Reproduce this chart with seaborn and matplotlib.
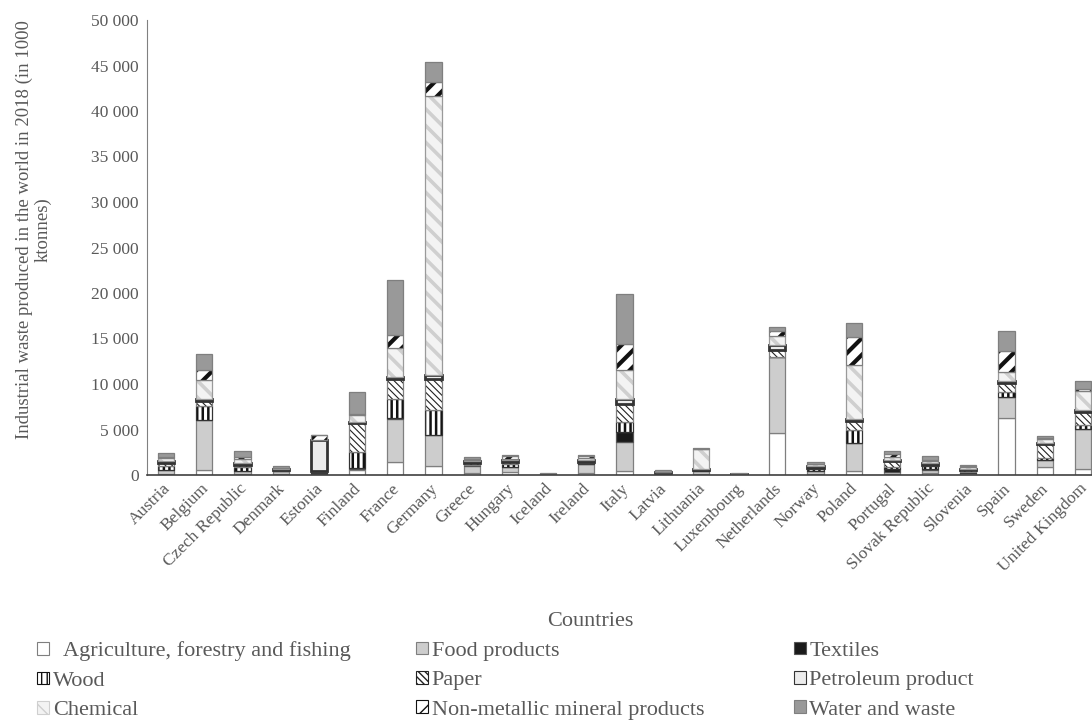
import numpy as np
import pandas as pd
import matplotlib
matplotlib.use("Agg")
import matplotlib.pyplot as plt
import matplotlib.transforms as mtransforms
from matplotlib.patches import Patch
from matplotlib.ticker import MultipleLocator, FuncFormatter
import seaborn as sns

# Industrial waste by sector and country (in 1000 ktonnes)
countries = ["Austria", "Belgium", "Czech Republic", "Denmark", "Estonia", "Finland",
             "France", "Germany", "Greece", "Hungary", "Iceland", "Ireland", "Italy",
             "Latvia", "Lithuania", "Luxembourg", "Netherlands", "Norway", "Poland",
             "Portugal", "Slovak Republic", "Slovenia", "Spain", "Sweden", "United Kingdom"]

agriculture = [100, 500, 100, 100, 50, 500, 1400, 1000, 200, 300, 0, 200, 470,
               20, 100, 0, 4650, 100, 470, 100, 200, 50, 6240, 920, 690]
food = [400, 5500, 300, 300, 100, 200, 4800, 3400, 800, 550, 60, 1000, 3120,
        100, 300, 50, 8350, 300, 3020, 250, 400, 200, 2380, 730, 4370]
textiles = [30, 50, 50, 20, 20, 50, 50, 50, 50, 50, 0, 10, 1170,
            10, 20, 0, 10, 10, 0, 300, 50, 20, 0, 0, 0]
wood = [500, 1500, 400, 50, 200, 1800, 2150, 2700, 100, 300, 0, 100, 1100,
        100, 100, 0, 0, 200, 1460, 200, 300, 100, 550, 190, 440]
paper = [300, 600, 300, 100, 50, 3200, 2100, 3400, 150, 200, 0, 100, 1980,
         20, 50, 0, 730, 200, 990, 700, 200, 150, 950, 1570, 1470]
petroleum = [200, 200, 200, 100, 3400, 100, 250, 400, 250, 200, 20, 200, 550,
             50, 80, 20, 550, 150, 220, 150, 200, 100, 220, 150, 150]
chemical = [300, 2100, 400, 100, 50, 700, 3200, 30700, 150, 200, 20, 250, 3190,
            30, 2200, 20, 990, 200, 5940, 300, 200, 300, 1030, 400, 2120]
non_metallic = [200, 1100, 200, 50, 500, 150, 1400, 1500, 100, 300, 20, 200, 2860,
                50, 60, 30, 580, 100, 3050, 300, 150, 100, 2310, 100, 170]
water_waste = [400, 1800, 700, 200, 50, 2400, 6100, 2200, 200, 150, 50, 150, 5500,
               150, 30, 50, 440, 200, 1530, 350, 350, 100, 2090, 230, 930]

sectors = ["  Agriculture, forestry and fishing", "Food products", "Textiles", "Wood",
           "Paper", "Petroleum product", "Chemical", "Non-metallic mineral products",
           "Water and waste"]
values = [agriculture, food, textiles, wood, paper, petroleum, chemical,
          non_metallic, water_waste]

# (facecolor, hatch, hatch colour, hatch linewidth, outline colour, outline width)
styles = [
    ("white", "", "#7f7f7f", 1.0, "#7f7f7f", 0.9),
    ("#cdcdcd", "", "#7f7f7f", 1.0, "#7f7f7f", 0.9),
    ("#1a1a1a", "", "#1a1a1a", 1.0, "#555555", 0.9),
    ("white", "|||", "#111111", 1.8, "#333333", 0.9),
    ("white", "\\\\\\\\\\", "#222222", 0.8, "#7f7f7f", 0.9),
    ("#ececec", "", "#404040", 1.0, "#333333", 2.0),
    ("#f3f3f3", "\\\\", "#cfcfcf", 2.6, "#9a9a9a", 0.9),
    ("white", "//", "#111111", 3.0, "#7f7f7f", 0.9),
    ("#999999", "", "#7f7f7f", 1.0, "#7f7f7f", 0.9),
]

sns.set_style("white")
plt.rcParams["font.family"] = ["Liberation Serif", "DejaVu Serif"]
text_color = "#595959"

fig = plt.figure(figsize=(10.92, 7.2), dpi=100)
ax = fig.add_axes([147 / 1092, 1 - 475 / 720, 955 / 1092, 455 / 720])

bottom = np.zeros(len(countries))
for vals, (fc, hatch, hc, hlw, oc, olw) in zip(values, styles):
    vals = np.array(vals, dtype=float)
    with plt.rc_context({"hatch.linewidth": hlw}):
        n_before = len(ax.patches)
        sns.barplot(x=countries, y=vals, bottom=bottom, color=fc, saturation=1,
                    edgecolor=hc, linewidth=0, hatch=hatch, width=0.42,
                    errorbar=None, ax=ax)
        for p in ax.patches[n_before:]:
            if hasattr(p, "set_hatch_linewidth"):
                p.set_hatch_linewidth(hlw)
    sns.barplot(x=countries, y=vals, bottom=bottom, color=oc, fill=False,
                linewidth=olw, width=0.42, errorbar=None, ax=ax)
    bottom = bottom + vals

ax.set_ylim(0, 50000)
ax.set_xlim(-0.5, len(countries) - 0.5)
ax.yaxis.set_major_locator(MultipleLocator(5000))
ax.yaxis.set_major_formatter(FuncFormatter(lambda v, p: f"{v:,.0f}".replace(",", " ")))
ax.tick_params(axis="y", direction="in", length=6, color="#808080",
               labelsize=12.5, labelcolor=text_color, pad=6)
ax.tick_params(axis="x", length=0, labelsize=12.5, labelcolor=text_color, pad=4)
shift = mtransforms.ScaledTranslation(-4 / 100, 0, fig.dpi_scale_trans)
for lab in ax.get_xticklabels():
    lab.set_rotation(45)
    lab.set_ha("right")
    lab.set_rotation_mode("anchor")
    lab.set_transform(lab.get_transform() + shift)

for side in ["top", "right"]:
    ax.spines[side].set_visible(False)
ax.spines["left"].set_color("#808080")
ax.spines["bottom"].set_color("#404040")
ax.spines["bottom"].set_linewidth(1.2)

ax.set_ylabel("Industrial waste produced in the world in 2018 (in 1000\nktonnes)",
              fontsize=13.5, color=text_color, linespacing=1.1)
ax.yaxis.set_label_coords(-0.0995, 0.54)
ax.set_xlabel("Countries", fontsize=16, color=text_color)
ax.xaxis.set_label_coords(0.464, -0.302)

handles = []
for (fc, hatch, hc, hlw, oc, olw), name in zip(styles, sectors):
    h = Patch(facecolor=fc, edgecolor=hc if hatch else oc, hatch=hatch,
              linewidth=0.8, label=name)
    handles.append(h)

col_x = [0.034, 0.381, 0.727]
for c in range(3):
    hs = [handles[c + 3 * r] for r in range(3)]
    leg = fig.legend(handles=hs, loc="upper left", bbox_to_anchor=(col_x[c], 0.109),
                     frameon=False, fontsize=16, labelcolor=text_color,
                     handlelength=0.55, handleheight=0.5, handletextpad=0.15,
                     labelspacing=0.46, borderaxespad=0, borderpad=0)

fig.savefig("out.png", dpi=100)
